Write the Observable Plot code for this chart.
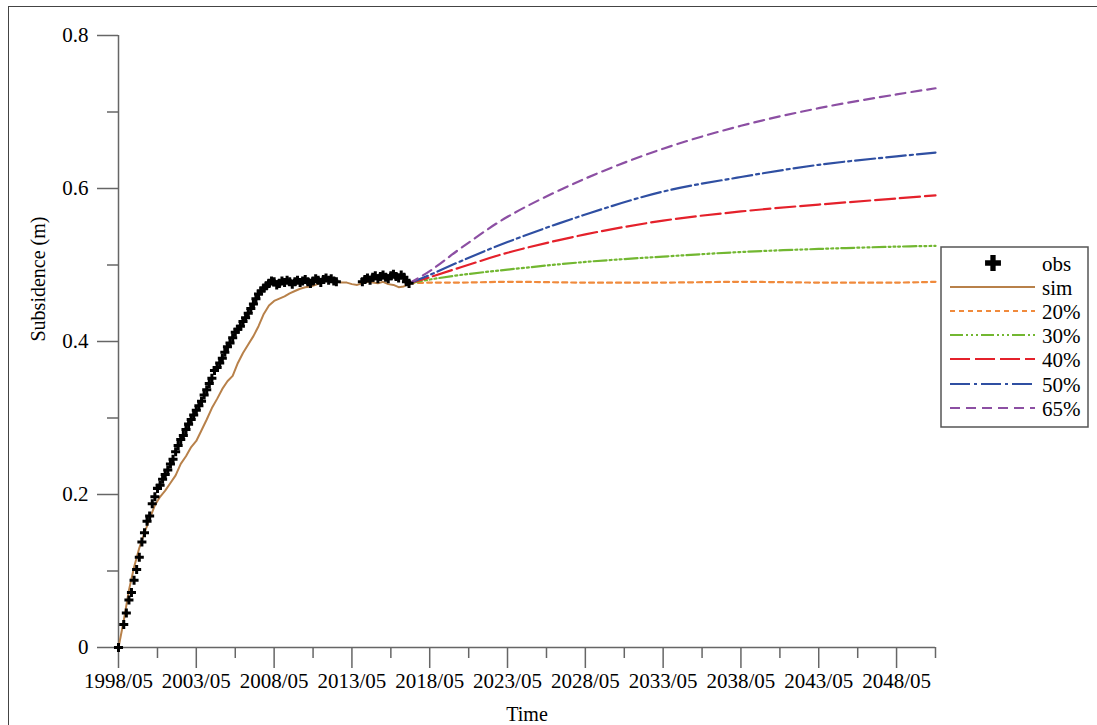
<!DOCTYPE html>
<html><head><meta charset="utf-8">
<script src="https://cdn.jsdelivr.net/npm/d3@7"></script>
<script src="https://cdn.jsdelivr.net/npm/@observablehq/plot@0.6"></script>
<style>
body{margin:0;background:#fff;}
#wrap{position:relative;width:1097px;height:725px;overflow:hidden;font-family:"Liberation Serif",serif;}
#frame{position:absolute;left:8px;top:6px;width:1200px;height:800px;border-left:1.5px solid #444;border-top:1.5px solid #444;}
#chart{position:absolute;left:0;top:0;}
#legend{position:absolute;left:0;top:0;pointer-events:none;}
</style></head>
<body><div id="wrap"><div id="frame"></div><div id="chart"></div><svg id="legend" width="1097" height="725"></svg></div>
<script>
// ---- data ----
const obsTime = ["1998-05","1998-09","1998-11","1999-01","1999-03","1999-05","1999-07","1999-09","1999-11","2000-01","2000-03","2000-05","2000-07","2000-09","2000-11","2001-01","2001-03","2001-05","2001-07","2001-09","2001-11","2002-01","2002-03","2002-05","2002-07","2002-09","2002-11","2003-01","2003-03","2003-05","2003-07","2003-09","2003-11","2004-01","2004-03","2004-05","2004-07","2004-09","2004-11","2005-01","2005-03","2005-05","2005-07","2005-09","2005-11","2006-01","2006-03","2006-05","2006-07","2006-09","2006-11","2007-01","2007-03","2007-05","2007-07","2007-09","2007-11","2008-01","2008-03","2008-05","2008-07","2008-09","2008-11","2009-01","2009-03","2009-05","2009-07","2009-09","2009-11","2010-01","2010-03","2010-05","2010-07","2010-09","2010-11","2011-01","2011-03","2011-05","2011-07","2011-09","2011-11","2012-01","2012-03","2012-05","2014-01","2014-03","2014-05","2014-07","2014-09","2014-11","2015-01","2015-03","2015-05","2015-07","2015-09","2015-11","2016-01","2016-03","2016-05","2016-07","2016-09","2016-11","2017-01"];
const obsValue = [0,0.030,0.045,0.062,0.072,0.088,0.102,0.118,0.138,0.150,0.165,0.172,0.188,0.197,0.208,0.212,0.220,0.226,0.232,0.240,0.246,0.256,0.264,0.272,0.277,0.285,0.292,0.298,0.304,0.310,0.316,0.322,0.330,0.337,0.345,0.352,0.362,0.366,0.372,0.378,0.386,0.393,0.398,0.405,0.412,0.416,0.420,0.426,0.431,0.437,0.443,0.449,0.456,0.462,0.466,0.470,0.473,0.476,0.479,0.478,0.474,0.476,0.479,0.477,0.480,0.478,0.475,0.478,0.480,0.477,0.479,0.481,0.478,0.476,0.479,0.482,0.480,0.477,0.481,0.483,0.480,0.482,0.479,0.478,0.478,0.481,0.483,0.480,0.484,0.486,0.482,0.485,0.487,0.484,0.482,0.486,0.488,0.485,0.483,0.487,0.484,0.478,0.476];

const simTime = ["1998-05","1998-09","1999-01","1999-05","1999-09","2000-01","2000-05","2000-09","2001-01","2001-05","2001-09","2002-01","2002-05","2002-09","2003-01","2003-05","2003-09","2004-01","2004-05","2004-09","2005-01","2005-05","2005-09","2006-01","2006-05","2006-09","2007-01","2007-05","2007-09","2008-01","2008-05","2008-09","2009-01","2009-05","2009-09","2010-01","2010-05","2010-09","2011-01","2011-05","2011-09","2012-01","2012-05","2012-09","2013-01","2013-05","2013-09","2014-01","2014-05","2014-09","2015-01","2015-05","2015-09","2016-01","2016-05","2016-09","2017-01"];
const simValue = [0,0.035,0.075,0.105,0.130,0.150,0.168,0.186,0.197,0.205,0.215,0.225,0.240,0.250,0.262,0.270,0.284,0.298,0.313,0.325,0.338,0.348,0.355,0.372,0.385,0.396,0.407,0.420,0.436,0.447,0.453,0.456,0.459,0.463,0.466,0.469,0.471,0.472,0.474,0.477,0.479,0.481,0.478,0.477,0.477,0.475,0.474,0.476,0.478,0.477,0.476,0.478,0.475,0.474,0.471,0.472,0.476];

const projTime = ["2017-01","2018-05","2020-05","2023-05","2028-05","2033-05","2038-05","2043-05","2048-05","2050-11"];
const p20 = [0.476,0.477,0.477,0.478,0.477,0.477,0.478,0.477,0.477,0.478];
const p30 = [0.476,0.481,0.487,0.494,0.504,0.511,0.517,0.521,0.524,0.525];
const p40 = [0.476,0.484,0.497,0.516,0.540,0.558,0.570,0.579,0.587,0.591];
const p50 = [0.476,0.487,0.505,0.530,0.566,0.596,0.615,0.631,0.642,0.647];
const p65 = [0.476,0.492,0.522,0.563,0.613,0.652,0.682,0.705,0.723,0.731];

const seriesNames = ["20%","30%","40%","50%","65%"];
const seriesColors = ["#f08a3c","#72b731","#e4212b","#2f4fa2","#8c4fa3"];
const seriesDash = ["5,4","13,3,2,3,2,3,2,3","20,5","20,4,3,4","10,6"];
const simColor = "#b8814a";

const xMajor = ["1998-05","2003-05","2008-05","2013-05","2018-05","2023-05","2028-05","2033-05","2038-05","2043-05","2048-05"];
const xMinor = ["2000-11","2005-11","2010-11","2015-11","2020-11","2025-11","2030-11","2035-11","2040-11","2045-11","2050-11"];
const yMajor = [0,0.2,0.4,0.6,0.8];
const yMinor = [0.1,0.3,0.5,0.7];

// ---- build ----
const parse = d3.utcParse("%Y-%m");
const fmt = d3.utcFormat("%Y/%m");
const obsRows = obsTime.map((t,i)=>({t:parse(t), v:obsValue[i]}));
const simRows = simTime.map((t,i)=>({t:parse(t), v:simValue[i]}));
const projVals = [p20,p30,p40,p50,p65];
const projRows = projVals.map(vals => projTime.map((t,i)=>({t:parse(t), v:vals[i]})));
const axisColor = "#666";
const x0 = parse("1998-05");

const chart = Plot.plot({
  width:1097, height:725,
  marginLeft:118, marginRight:162, marginTop:35, marginBottom:78,
  style:{fontFamily:"'Liberation Serif', serif", fontSize:"21px", background:"transparent", color:"#000"},
  x:{type:"utc", domain:[x0, parse("2050-11")]},
  y:{domain:[0,0.8]},
  marks:[
    Plot.axisX({ticks:xMajor.map(parse), tickFormat:fmt, tickSize:21, tickPadding:5, stroke:axisColor, strokeWidth:1.5, label:null, fontSize:21}),
    Plot.axisX({ticks:xMinor.map(parse), tickFormat:()=>"", tickSize:11, stroke:axisColor, strokeWidth:1.5, label:null}),
    Plot.axisY({ticks:yMajor, tickFormat:d=> d===0 ? "0" : d.toFixed(1), tickSize:21, tickPadding:9, stroke:axisColor, strokeWidth:1.5, label:null, fontSize:21}),
    Plot.axisY({ticks:yMinor, tickFormat:()=>"", tickSize:11, stroke:axisColor, strokeWidth:1.5, label:null}),
    Plot.ruleY([0], {stroke:axisColor, strokeWidth:1.5}),
    Plot.ruleX([x0], {y1:0, y2:0.8, stroke:axisColor, strokeWidth:1.5}),
    ...projRows.map((rows,i)=>Plot.line(rows, {x:"t", y:"v", curve:"catmull-rom", stroke:seriesColors[i], strokeWidth:2.2, strokeDasharray:seriesDash[i]})),
    Plot.line(simRows, {x:"t", y:"v", stroke:simColor, strokeWidth:2}),
    Plot.dot(obsRows, {x:"t", y:"v", symbol:"cross", r:3.8, fill:"#000", stroke:null}),
    Plot.text(["Time"], {frameAnchor:"bottom", dy:67, lineAnchor:"middle", fontSize:20}),
    Plot.text(["Subsidence (m)"], {frameAnchor:"left", dx:-80, rotate:-90, fontSize:20})
  ]
});
document.getElementById("chart").appendChild(chart);

// ---- legend ----
const lg = d3.select("#legend");
lg.append("rect").attr("x",941).attr("y",247).attr("width",147).attr("height",180)
  .attr("fill","#fff").attr("stroke","#555").attr("stroke-width",1.5);
const rowY = [264,288,312,336,360,385,409];
const labels = ["obs","sim",...seriesNames];
labels.forEach((lab,i)=>{
  const y = rowY[i];
  if(i===0){
    lg.append("path").attr("d", d3.symbol(d3.symbolCross, 140)()).attr("transform",`translate(993,${y-1})`).attr("fill","#000");
  } else if(i===1){
    lg.append("line").attr("x1",950).attr("x2",1035).attr("y1",y-1).attr("y2",y-1).attr("stroke",simColor).attr("stroke-width",2);
  } else {
    lg.append("line").attr("x1",950).attr("x2",1035).attr("y1",y-1).attr("y2",y-1)
      .attr("stroke",seriesColors[i-2]).attr("stroke-width",2.2).attr("stroke-dasharray",seriesDash[i-2]);
  }
  lg.append("text").attr("x",1042).attr("y",y).attr("dy","0.32em").attr("font-family","'Liberation Serif', serif").attr("font-size",21).text(lab);
});
</script></body></html>
